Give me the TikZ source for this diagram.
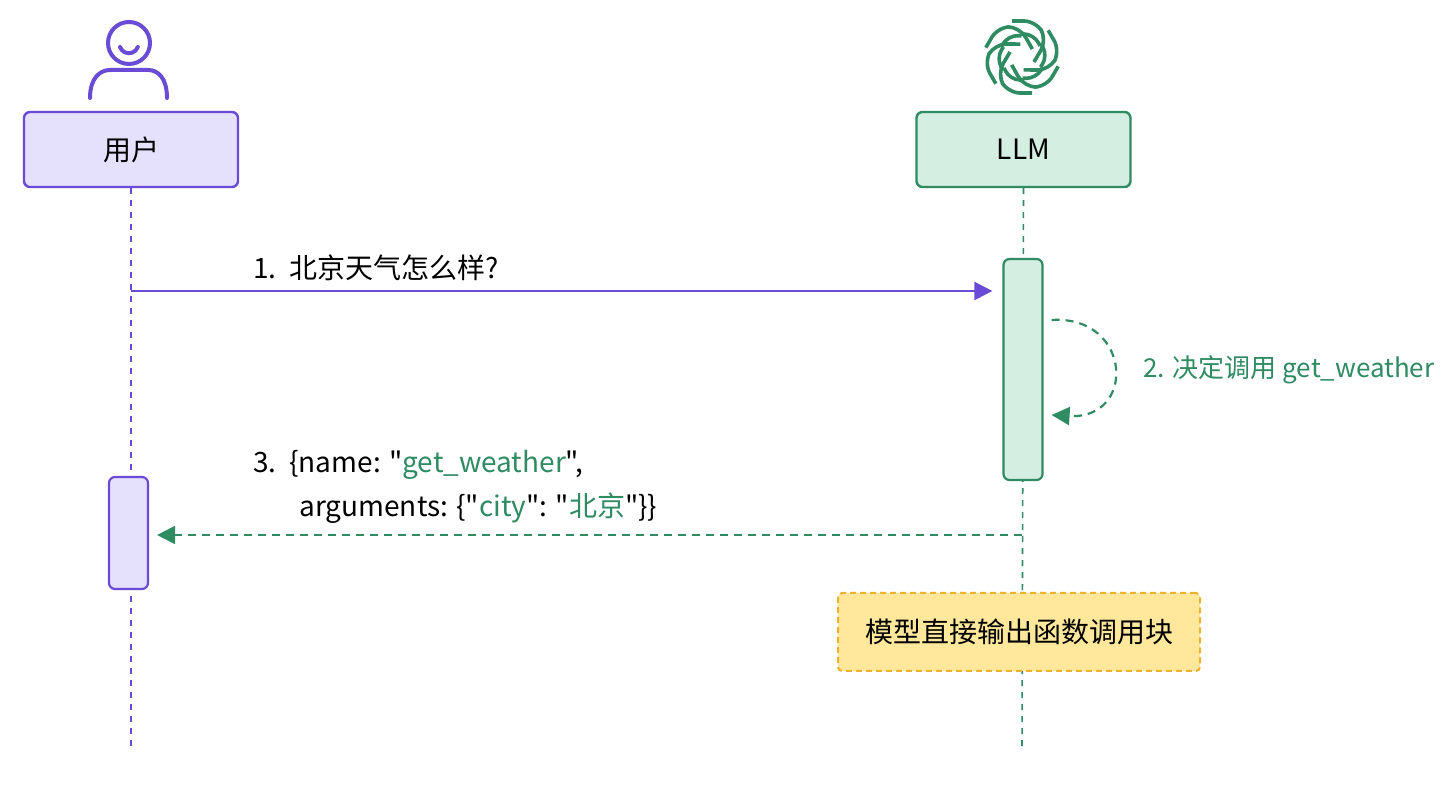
\documentclass[tikz,border=0pt]{standalone}
\usepackage{fontspec}
\setmainfont{Noto Sans CJK SC}[Ligatures=TeXOff]
\usetikzlibrary{arrows.meta}
\definecolor{pur}{HTML}{6A4BD6}
\definecolor{purf}{HTML}{E5E0FB}
\definecolor{grn}{HTML}{2E8B62}
\definecolor{grnf}{HTML}{D4EEE2}
\definecolor{yel}{HTML}{FFE89C}
\definecolor{org}{HTML}{F0B030}
\begin{document}
\begin{tikzpicture}[x=0.5pt,y=-0.5pt,
  actor/.style={draw, line width=1.2pt, rounded corners=3pt, minimum width=107pt, minimum height=37.5pt, font=\fontsize{14}{16}\selectfont},
  act/.style={draw, line width=1.1pt, rounded corners=3pt, minimum width=19.5pt},
  life/.style={line width=0.8pt, dash pattern=on 3pt off 3pt},
  lbl/.style={font=\fontsize{14}{16}\selectfont, anchor=west, inner sep=0pt}]
\useasboundingbox[fill=white] (0,0) rectangle (1446,795);
% user icon
\draw[pur, line width=2pt] (129,43) circle (21);
\draw[pur, line width=2pt, line cap=round] (120,47) arc[start angle=160, end angle=20, radius=9.5];
\draw[pur, line width=2pt, line cap=round] (90,98) .. controls (90,78) and (100,70) .. (110,70) -- (148,70) .. controls (158,70) and (167,78) .. (167,98);
% LLM logo
\begin{scope}[shift={(1022,57)}]
\foreach \a in {0,60,...,300}{
  \draw[grn, line width=1.8pt, rotate=\a, rounded corners=6pt] (-10,-36) -- (14,-36) -- (25,-17) -- (12,5) ;
  \draw[grn, line width=1.8pt, rotate=\a, rounded corners=5pt] (-2,-23) -- (12,-23) -- (18,-11) ;
}
\end{scope}
\node[actor, draw=pur, fill=purf] (user) at (131,149.5) {用户};
\node[actor, draw=grn, fill=grnf] (llm) at (1023.5,149.5) {LLM};
\coordinate (ue) at (131,750); \coordinate (le) at (1022,750);
\draw[pur, life] (user.south) -- (ue);
\draw[grn, life] (llm.south) -- (le);
\node[act, draw=grn, fill=grnf, minimum height=110.5pt] (la) at (1023,369.5) {};
\node[act, draw=pur, fill=purf, minimum height=56pt] (ua) at (128.5,533) {};
% arrow 1
\coordinate (a1s) at (131,291);
\draw[pur, line width=1.1pt, -{Triangle[length=9pt,width=9pt]}] (a1s) -- ([xshift=-5pt]la.west |- a1s);
\node[lbl] (l1) at (253,268) {1.\ \ 北京天气怎么样?};
% self arrow
\coordinate (s1) at ([xshift=4pt]la.east |- 0,320);
\coordinate (s2) at ([xshift=4pt]la.east |- 0,415);
\draw[grn, line width=1.1pt, dash pattern=on 4pt off 3pt, -{Triangle[length=9pt,width=9pt]}] (s1) .. controls (1132,315) and (1137,420) .. (s2);
\node[lbl, text=grn, font=\fontsize{13}{15}\selectfont] (l2) at (1143,370) {2. 决定调用 get\_weather};
% arrow 3
\coordinate (a3s) at (1022,535);
\draw[grn, line width=1.1pt, dash pattern=on 4pt off 3pt, -{Triangle[length=9pt,width=9pt]}] (a3s) -- ([xshift=4pt]ua.east |- a3s);
\node[lbl] (l3) at (253,465) {3.\ \ \{name: "\textcolor{grn}{get\_weather}",};
\node[lbl] (l3b) at (299,508) {arguments: \{"\textcolor{grn}{city}": "\textcolor{grn}{北京}"\}\}};
% note
\node[draw=org, fill=yel, line width=1pt, dash pattern=on 3pt off 2pt, rounded corners=2pt, minimum width=181pt, minimum height=39pt, font=\fontsize{14}{16}\selectfont] (note) at (1019,632) {模型直接输出函数调用块};
\end{tikzpicture}
\end{document}
